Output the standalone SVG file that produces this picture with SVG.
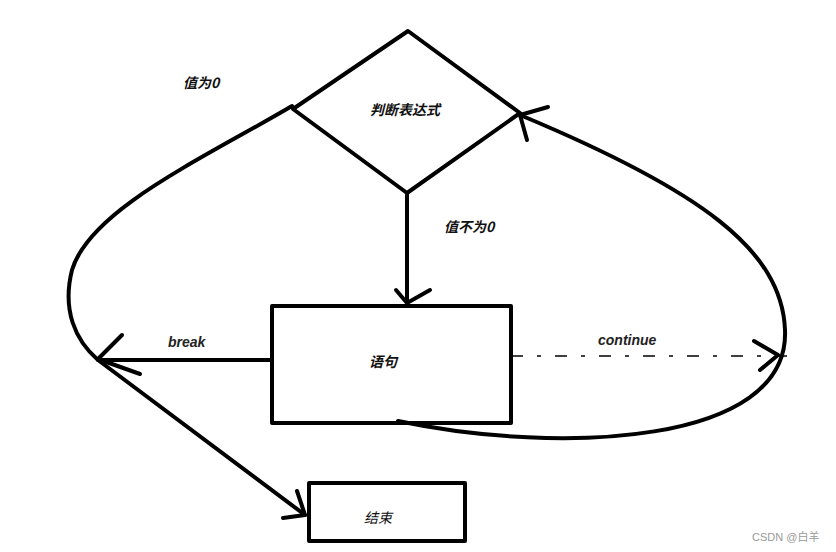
<svg xmlns="http://www.w3.org/2000/svg" width="836" height="552" viewBox="0 0 836 552">
<style>
.s{fill:none;stroke:#000;stroke-width:4;stroke-linecap:round;stroke-linejoin:round}
.t{font-family:"Liberation Sans","Noto Sans CJK SC",sans-serif;font-style:italic;font-weight:bold;font-size:14px;fill:#222}
.c{font-family:"Noto Sans CJK SC","Liberation Sans",sans-serif;font-style:italic;font-size:14px;fill:#111}
</style>
<rect width="836" height="552" fill="#fff"/>
<g id="connectors">
<path class="s" d="M407,195 L407,302"/>
<path class="s" d="M396,290 L407,303 L430,290"/>
<path class="s" d="M272,360 L98,360"/>
<path class="s" d="M122,335 L98,359 L140,374"/>
<path class="s" d="M292,106 C200,160 90,210 72,270 C62,310 75,340 98,360 L305,515"/>
<path class="s" d="M297,491 L305,515 L283,518"/>
<path class="s" d="M398,421 C560,455 790,445 785,330 C782,250 700,190 520,115"/>
<path class="s" d="M548,107 L520,115 L527,140"/>
<path fill="none" stroke="#000" stroke-width="1.3" stroke-dasharray="12 14 4 14" d="M511,356 L787,356"/>
<path class="s" d="M754,341 L778,355 L760,370"/>
</g>
<g id="decision">
<polygon class="s" points="408,31 293,109 407,193 520,113"/>
<text class="c" x="405" y="115" text-anchor="middle" font-weight="bold">判断表达式</text>
</g>
<g id="statement">
<rect class="s" x="272" y="306" width="239" height="117"/>
<text class="c" x="383" y="367" text-anchor="middle" font-weight="bold">语句</text>
</g>
<g id="end">
<rect class="s" x="309" y="483" width="156" height="58"/>
<text class="c" x="378" y="523" text-anchor="middle">结束</text>
</g>
<g id="labels">
<text class="c" x="183" y="88" font-weight="bold" font-size="13">值为0</text>
<text class="c" x="444" y="232" font-weight="bold" font-size="13">值不为0</text>
<text class="t" x="168" y="347">break</text>
<text class="t" x="598" y="345">continue</text>
<text x="752" y="541" font-family="Liberation Sans,'Noto Sans CJK SC',sans-serif" font-size="11" fill="#999">CSDN @白羊</text>
</g>
</svg>
